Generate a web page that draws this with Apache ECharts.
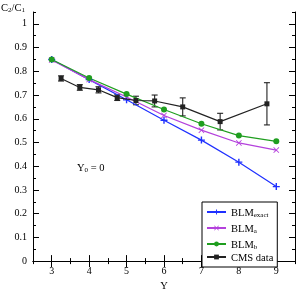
<!DOCTYPE html>
<html><head><meta charset="utf-8">
<script src="https://cdn.jsdelivr.net/npm/echarts@6/dist/echarts.min.js"></script>
<style>html,body{margin:0;padding:0;background:#fff}#c{width:296px;height:297px}</style>
</head><body><div id="c"></div>
<script>
// ---- data ----
const yGrid = [3, 4, 5, 6, 7, 8, 9];
const blmExact = [0.850, 0.765, 0.680, 0.594, 0.510, 0.417, 0.314];
const blmA = [0.848, 0.765, 0.692, 0.614, 0.552, 0.498, 0.468];
const blmB = [0.850, 0.772, 0.704, 0.639, 0.579, 0.529, 0.505];
const cmsY = [3.25, 3.75, 4.25, 4.75, 5.25, 5.75, 6.5, 7.5, 8.75];
const cmsVal = [0.770, 0.732, 0.722, 0.689, 0.677, 0.675, 0.650, 0.588, 0.663];
const cmsErr = [0.011, 0.012, 0.013, 0.012, 0.018, 0.025, 0.038, 0.035, 0.089];
const xTicks = [3, 4, 5, 6, 7, 8, 9];
const xMinorTicks = [2.5, 3.5, 4.5, 5.5, 6.5, 7.5, 8.5, 9.5];
const yTicks = [0, 0.1, 0.2, 0.3, 0.4, 0.5, 0.6, 0.7, 0.8, 0.9, 1];
const yMinorTicks = [0.05, 0.15, 0.25, 0.35, 0.45, 0.55, 0.65, 0.75, 0.85, 0.95, 1.05];

const FONT = 'Liberation Serif';
const C_EXACT = '#1f30ff', C_A = '#b441dc', C_B = '#1f9e1f', C_CMS = '#222222';
const pairs = (xs, ys) => xs.map((x, i) => [x, ys[i]]);

const PLUS = 'path://M4,0H6V4H10V6H6V10H4V6H0V4H4Z';
const CROSS = 'path://M0,1L1,0L5,4L9,0L10,1L6,5L10,9L9,10L5,6L1,10L0,9L4,5Z';

function xAxisDef(pos, major) {
  return {
    type: 'value', position: pos, min: 2.5, max: 9.5, interval: 0.5,
    axisLine: { show: major, lineStyle: { color: '#000', width: 1 } },
    axisTick: { inside: true, length: major ? 6 : 3, customValues: major ? xTicks : xMinorTicks, lineStyle: { color: '#000', width: 1 } },
    axisLabel: { show: major && pos === 'bottom', customValues: xTicks, fontFamily: FONT, fontSize: 10, color: '#000', margin: 5 },
    splitLine: { show: false },
    name: (major && pos === 'bottom') ? 'Y' : '', nameLocation: 'middle', nameGap: 19,
    nameTextStyle: { fontFamily: FONT, fontSize: 10.5, color: '#000' }
  };
}
function yAxisDef(pos, major) {
  return {
    type: 'value', position: pos, min: 0, max: 1.05, interval: 0.05,
    axisLine: { show: major, lineStyle: { color: '#000', width: 1 } },
    axisTick: { inside: true, length: major ? 6 : 3, customValues: major ? yTicks : yMinorTicks, lineStyle: { color: '#000', width: 1 } },
    axisLabel: { show: major && pos === 'left', customValues: yTicks, fontFamily: FONT, fontSize: 10, color: '#000', margin: 6,
      formatter: v => (Math.abs(v) < 1e-9 ? '0' : Math.abs(v - 1) < 1e-9 ? '1' : v.toFixed(1)) },
    splitLine: { show: false }
  };
}

const richM = { fontFamily: FONT, fontSize: 10.5, fontWeight: 'normal', color: '#000', lineHeight: 14, verticalAlign: 'bottom' };
const richS = { fontFamily: FONT, fontSize: 7, fontWeight: 'normal', color: '#000', lineHeight: 7, padding: [7, 0, 0, 0], verticalAlign: 'bottom' };

const chart = echarts.init(document.getElementById('c'), null, { renderer: 'canvas' });
chart.setOption({
  animation: false,
  backgroundColor: '#fff',
  grid: { left: 33, right: 1, top: 12, bottom: 25 },
  title: {
    text: '{c|C}{s|2}{c|/C}{s|1}', left: 1, top: 0, padding: 0,
    textStyle: { fontWeight: 'normal', rich: { c: richM, s: richS } }
  },
  xAxis: [xAxisDef('bottom', true), xAxisDef('bottom', false), xAxisDef('top', true), xAxisDef('top', false)],
  yAxis: [yAxisDef('left', true), yAxisDef('left', false), yAxisDef('right', true), yAxisDef('right', false)],
  legend: {
    orient: 'vertical', left: 202, top: 202, itemWidth: 19, itemHeight: 6, itemGap: 2,
    padding: [3, 4, 3, 4], borderColor: '#000', borderWidth: 1, backgroundColor: '#fff', borderRadius: 0,
    data: ['BLMexact', 'BLMa', 'BLMb', 'CMS data'],
    formatter: n => ({ BLMexact: '{m|BLM}{s|exact}', BLMa: '{m|BLM}{s|a}', BLMb: '{m|BLM}{s|b}', 'CMS data': '{m|CMS data}' })[n],
    textStyle: { rich: { m: richM, s: richS } }
  },
  graphic: [{
    type: 'text', left: 77, top: 160,
    style: { text: '{m|Y}{s|0}{m| = 0}', rich: {
      m: Object.assign({}, richM, { fill: '#000' }),
      s: Object.assign({}, richS, { fill: '#000' })
    } }
  }],
  series: [
    { name: 'BLMexact', type: 'line', data: pairs(yGrid, blmExact), symbol: PLUS, symbolSize: 7,
      lineStyle: { color: C_EXACT, width: 1.2 }, itemStyle: { color: C_EXACT } },
    { name: 'BLMa', type: 'line', data: pairs(yGrid, blmA), symbol: CROSS, symbolSize: 6,
      lineStyle: { color: C_A, width: 1.2 }, itemStyle: { color: C_A } },
    { name: 'BLMb', type: 'line', data: pairs(yGrid, blmB), symbol: 'circle', symbolSize: 6,
      lineStyle: { color: C_B, width: 1.2 }, itemStyle: { color: C_B } },
    { name: 'CMS data', type: 'line', data: pairs(cmsY, cmsVal), symbol: 'rect', symbolSize: 5,
      lineStyle: { color: C_CMS, width: 1.2 }, itemStyle: { color: C_CMS }, z: 4 },
    { name: 'CMS err', type: 'custom', data: cmsY.map((x, i) => [x, cmsVal[i], cmsErr[i]]), z: 3,
      renderItem: (params, api) => {
        const x = api.value(0), y = api.value(1), e = api.value(2);
        const t = api.coord([x, y + e]), b = api.coord([x, y - e]);
        const st = { stroke: C_CMS, lineWidth: 1.1 };
        return { type: 'group', children: [
          { type: 'line', shape: { x1: t[0], y1: t[1], x2: b[0], y2: b[1] }, style: st },
          { type: 'line', shape: { x1: t[0] - 3, y1: t[1], x2: t[0] + 3, y2: t[1] }, style: st },
          { type: 'line', shape: { x1: b[0] - 3, y1: b[1], x2: b[0] + 3, y2: b[1] }, style: st }
        ] };
      } }
  ]
});
</script></body></html>
